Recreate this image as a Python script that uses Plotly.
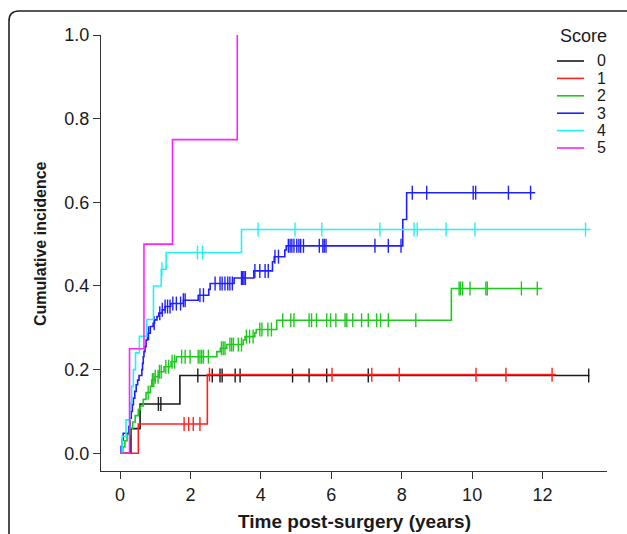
import plotly.graph_objects as go

# ---------------- data ----------------
scores = ["0", "1", "2", "3", "4", "5"]
colors = ["#1a1a1a", "#ff2020", "#1fc81f", "#2020ff", "#22f2f2", "#ff22ff"]

# Score 0
s0_t = [0, 0.31, 0.57, 1.70]
s0_v = [0, 0.059, 0.118, 0.186]
s0_end = 13.33
s0_cens = [1.09, 1.16, 2.21, 2.62, 2.84, 2.90, 3.27, 3.41, 4.90, 5.37, 5.87, 7.05, 13.31]

# Score 1
s1_t = [0, 0.52, 2.48]
s1_v = [0, 0.070, 0.188]
s1_end = 12.38
s1_cens = [1.82, 1.95, 2.08, 2.27, 2.54, 6.02, 7.15, 7.93, 10.11, 10.96, 12.27]

# Score 2
s2_t = [0, 0.08, 0.14, 0.20, 0.28, 0.36, 0.43, 0.52, 0.58, 0.66, 0.74, 0.86, 0.90,
        1.00, 1.10, 1.25, 1.45, 1.60, 2.75, 2.85, 3.03, 3.50, 3.55, 3.83, 3.87, 4.45, 9.41]
s2_v = [0, 0.015, 0.030, 0.045, 0.060, 0.075, 0.090, 0.105, 0.113, 0.129, 0.145, 0.160, 0.175,
        0.183, 0.195, 0.207, 0.219, 0.231, 0.243, 0.251, 0.260, 0.271, 0.279, 0.288, 0.296, 0.318, 0.394]
s2_end = 11.99
s2_cens = [0.80, 0.92, 0.96, 1.00, 1.08, 1.12, 1.17, 1.30, 1.38, 1.48, 1.55,
           1.75, 1.85, 1.99, 2.22, 2.27, 2.32, 2.37, 2.51, 2.88, 2.93, 2.98,
           3.12, 3.17, 3.22, 3.36, 3.45, 3.59, 3.68, 3.78, 3.97, 4.03, 4.20, 4.30,
           4.62, 4.85, 4.94, 5.37, 5.44, 5.58, 5.87, 5.98, 6.13, 6.39, 6.44, 6.61,
           6.86, 7.05, 7.29, 7.40, 7.62, 8.40, 9.63, 9.67, 9.73, 9.94, 10.39, 10.43,
           11.40, 11.85]

# Score 3
s3_t = [0, 0.03, 0.06, 0.09, 0.25, 0.28, 0.32, 0.35, 0.38, 0.42, 0.46, 0.50, 0.54,
        0.62, 0.64, 0.66, 0.68, 0.71, 0.74, 0.78, 0.86, 0.94, 0.98, 1.05, 1.10, 1.20,
        1.28, 1.44, 1.80, 2.22, 2.52, 2.56, 3.24, 3.80, 4.33, 4.38, 4.68, 4.72, 8.03, 8.14]
s3_v = [0, 0.016, 0.032, 0.048, 0.064, 0.084, 0.100, 0.116, 0.132, 0.148, 0.164, 0.175, 0.186,
        0.200, 0.215, 0.231, 0.243, 0.255, 0.271, 0.287, 0.303, 0.311, 0.319, 0.327, 0.335, 0.343,
        0.351, 0.358, 0.366, 0.378, 0.392, 0.406, 0.419, 0.436, 0.458, 0.470, 0.486, 0.496, 0.559, 0.623]
s3_end = 11.79
s3_cens = [0.81, 0.97, 1.13, 1.20, 1.28, 1.35, 1.42, 1.50, 1.60, 1.72, 1.80, 1.85,
           2.27, 2.37, 2.70, 2.84, 2.90, 2.98, 3.06, 3.12, 3.19, 3.45, 3.48, 3.52,
           3.56, 3.83, 3.97, 4.12, 4.21, 4.40, 4.50, 4.78, 4.83, 4.88, 4.94, 5.02,
           5.08, 5.13, 5.21, 5.66, 5.76, 5.80, 5.85, 7.24, 7.62, 7.98, 8.30, 8.71,
           10.03, 10.10, 11.03, 11.66]

# Score 4
s4_t = [0, 0.06, 0.17, 0.28, 0.33, 0.38, 0.44, 0.55, 0.76, 0.95, 1.17, 1.31, 3.45]
s4_v = [0, 0.04, 0.08, 0.12, 0.16, 0.20, 0.24, 0.28, 0.32, 0.40, 0.44, 0.48, 0.535]
s4_end = 13.36
s4_cens = [1.19, 2.20, 2.34, 3.92, 4.97, 5.73, 7.38, 8.35, 8.44, 9.26, 10.08, 13.22]

# Score 5
s5_t = [0, 0.27, 0.68, 1.49, 3.33]
s5_v = [0, 0.25, 0.50, 0.75, 1.00]
s5_end = 3.33
s5_cens = []

x_ticks = [0, 2, 4, 6, 8, 10, 12]
y_ticks = [0.0, 0.2, 0.4, 0.6, 0.8, 1.0]

series = [
    (s0_t, s0_v, s0_end, s0_cens),
    (s1_t, s1_v, s1_end, s1_cens),
    (s2_t, s2_v, s2_end, s2_cens),
    (s3_t, s3_v, s3_end, s3_cens),
    (s4_t, s4_v, s4_end, s4_cens),
    (s5_t, s5_v, s5_end, s5_cens),
]


def level_at(times, levels, t):
    lv = levels[0]
    for tt, vv in zip(times, levels):
        if tt <= t:
            lv = vv
    return lv


# ---------------- figure ----------------
W, H = 627, 534
ML, MR, MT, MB = 101, 20, 35, 63
PW, PH = W - ML - MR, H - MT - MB


def px(xp):
    return (xp - ML) / PW


def py(yp):
    return (H - MB - yp) / PH


fig = go.Figure()
FONT = "Liberation Sans, Arial, Helvetica, sans-serif"

for (t, v, end, cens), name, col in zip(series, scores, colors):
    fig.add_trace(go.Scatter(
        x=t + [end], y=v + [v[-1]], mode="lines", line_shape="hv",
        line=dict(color=col, width=1.6), name=name, showlegend=False,
        hoverinfo="skip"))
    if cens:
        fig.add_trace(go.Scatter(
            x=cens, y=[level_at(t, v, c) for c in cens], mode="markers",
            marker=dict(symbol="line-ns", size=10,
                        line=dict(color=col, width=1.4)),
            showlegend=False, hoverinfo="skip"))

axis_common = dict(
    showline=True, linecolor="#333333", linewidth=1.2, mirror=False,
    ticks="outside", ticklen=7, tickwidth=1.2, tickcolor="#333333",
    showgrid=False, zeroline=False,
    tickfont=dict(family=FONT, size=18, color="#1a1a1a"),
)

fig.update_layout(
    width=W, height=H,
    margin=dict(l=ML, r=MR, t=MT, b=MB, pad=0),
    paper_bgcolor="white", plot_bgcolor="white",
    showlegend=False,
    xaxis=dict(range=[-0.54, 13.83], tickvals=x_ticks, **axis_common),
    yaxis=dict(range=[-0.0423, 1.0], tickvals=y_ticks, tickformat=".1f",
               **axis_common),
)

# axis titles
fig.add_annotation(
    text="Time post-surgery (years)", xref="paper", yref="paper",
    x=px(354.5), y=py(521), xanchor="center", yanchor="middle", showarrow=False,
    font=dict(family=FONT, size=19, color="#1a1a1a", weight="bold"))
fig.add_annotation(
    text="Cumulative incidence", xref="paper", yref="paper", textangle=-90,
    x=px(41), y=py(244), xanchor="center", yanchor="middle", showarrow=False,
    font=dict(family=FONT, size=16, color="#1a1a1a", weight="bold"))

# legend (drawn manually to match R's legend layout)
fig.add_annotation(
    text="Score", xref="paper", yref="paper", x=px(583), y=py(36),
    xanchor="center", yanchor="middle", showarrow=False,
    font=dict(family=FONT, size=18, color="#1a1a1a"))
for i, (name, col) in enumerate(zip(scores, colors)):
    yy = 61 + 17.4 * i
    fig.add_shape(type="line", xref="paper", yref="paper",
                  x0=px(557), x1=px(584), y0=py(yy), y1=py(yy),
                  line=dict(color=col, width=1.6))
    fig.add_annotation(
        text=name, xref="paper", yref="paper", x=px(608), y=py(yy),
        xanchor="right", yanchor="middle", showarrow=False,
        font=dict(family=FONT, size=16, color="#1a1a1a"))

# rounded frame around the panel (top-left corner visible)
x0, y0 = px(9), py(11)
rx, ry = 10 / PW, 10 / PH
xr, yb = px(W + 20), py(H + 20)
fig.add_shape(type="path", xref="paper", yref="paper",
              path=f"M {x0},{yb} L {x0},{y0 - ry} Q {x0},{y0} {x0 + rx},{y0} L {xr},{y0}",
              line=dict(color="#222222", width=1.6))

fig.write_html(
    "out.html",
    config={"displayModeBar": False},
    post_script="document.body.style.margin='0';document.body.style.overflow='hidden';")
